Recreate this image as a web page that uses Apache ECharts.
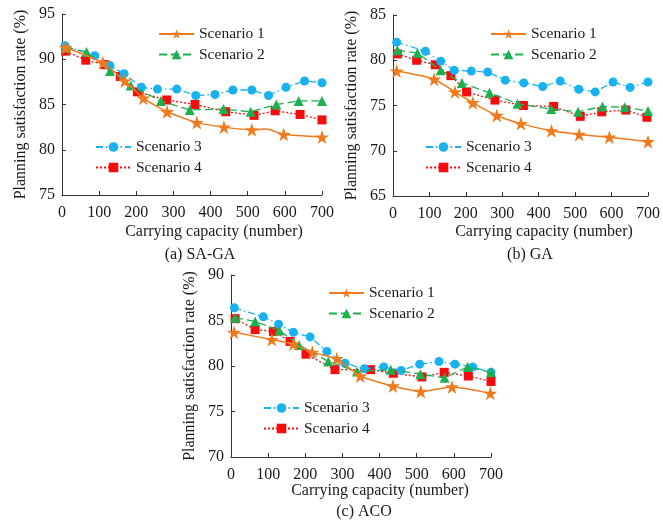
<!DOCTYPE html>
<html><head><meta charset="utf-8">
<script src="https://cdn.jsdelivr.net/npm/echarts@6/dist/echarts.min.js"></script>
<style>html,body{margin:0;padding:0;background:#fff}#c{width:663px;height:524px}</style>
</head><body><div id="c"></div>
<script>
// ---- data ----
const scenarioNames = ['Scenario 1', 'Scenario 2', 'Scenario 3', 'Scenario 4'];
const xTicks = [0, 100, 200, 300, 400, 500, 600, 700];
const panelCaptions = ['(a) SA-GA', '(b) GA', '(c) ACO'];
const yRanges = [[75, 95], [65, 85], [70, 90]];

// Panel (a) SA-GA
const aS1x = [10, 110, 169, 219, 283, 363, 436, 511, 551, 597, 700];
const aS1y = [91.3, 89.6, 87.6, 85.7, 84.2, 83.0, 82.5, 82.2, 82.3, 81.7, 81.4];
const aS1hidden = [551];
const aS2x = [10, 66, 129, 185, 266, 344, 435, 508, 577, 637, 700];
const aS2y = [91.3, 90.8, 88.7, 87.1, 85.4, 84.4, 84.5, 84.2, 85.0, 85.4, 85.4];
const aS3x = [8, 88, 129, 167, 214, 257, 309, 360, 412, 460, 511, 556, 603, 653, 700];
const aS3y = [91.5, 90.4, 89.3, 88.4, 86.9, 86.7, 86.7, 86.0, 86.1, 86.6, 86.6, 86.0, 86.9, 87.6, 87.4];
const aS4x = [10, 64, 115, 157, 203, 282, 358, 441, 517, 574, 641, 700];
const aS4y = [90.9, 89.9, 89.4, 88.1, 86.4, 85.5, 85.0, 84.2, 83.8, 84.3, 83.9, 83.3];

// Panel (b) GA
const bS1x = [10, 113, 170, 219, 285, 351, 435, 511, 594, 700];
const bS1y = [78.8, 77.9, 76.5, 75.3, 73.9, 73.0, 72.2, 71.8, 71.5, 71.0];
const bS2x = [12, 67, 131, 189, 265, 342, 434, 508, 575, 636, 700];
const bS2y = [81.1, 80.8, 78.9, 77.5, 76.4, 75.2, 74.6, 74.3, 74.9, 74.8, 74.4];
const bS3x = [10, 89, 131, 168, 215, 260, 308, 359, 411, 459, 510, 555, 604, 651, 700];
const bS3y = [82.0, 81.0, 79.9, 78.9, 78.8, 78.7, 77.8, 77.5, 77.1, 77.7, 76.8, 76.5, 77.6, 77.0, 77.6];
const bS4x = [12, 65, 116, 159, 202, 280, 358, 441, 514, 573, 639, 697];
const bS4y = [80.7, 80.0, 79.5, 78.3, 76.5, 75.6, 75.0, 74.9, 73.8, 74.3, 74.5, 73.7];

// Panel (c) ACO
const cS1x = [8, 110, 168, 219, 285, 348, 436, 511, 595, 698];
const cS1y = [83.7, 82.9, 82.4, 81.5, 80.8, 78.9, 77.8, 77.2, 77.7, 77.0];
const cS2x = [11, 65, 130, 183, 262, 339, 430, 510, 575, 637, 700];
const cS2y = [85.3, 84.9, 83.9, 82.3, 80.5, 79.4, 79.6, 79.1, 78.7, 79.9, 79.3];
const cS3x = [9, 87, 128, 168, 213, 258, 307, 359, 411, 458, 508, 560, 603, 651, 700];
const cS3y = [86.4, 85.4, 84.6, 83.7, 83.2, 81.6, 80.3, 79.7, 79.9, 79.5, 80.2, 80.5, 80.2, 79.9, 79.3];
const cS4x = [11, 65, 114, 159, 202, 280, 376, 437, 514, 574, 639, 700];
const cS4y = [85.2, 84.0, 83.8, 82.7, 81.3, 79.6, 79.6, 79.2, 78.8, 79.3, 78.9, 78.3];

// ---- styles ----
const FONT = 'Liberation Serif';
const TXT = '#1a1a1a';
const FS = 16;
const styles = [
  { color: '#F07A1E', symbol: 'path://M50,0 L61.8,35.4 L99,35.4 L69,57.3 L80.3,93 L50,71 L19.7,93 L31,57.3 L1,35.4 L38.2,35.4 Z', size: 14, type: 'solid', width: 1.5, smooth: 0.2 },
  { color: '#1DB050', symbol: 'triangle', size: 10, type: [8, 4], width: 1.3, smooth: false },
  { color: '#18B2EE', symbol: 'circle', size: 9, type: [7, 3, 1.5, 3], width: 1.3, smooth: false },
  { color: '#F50D0D', symbol: 'rect', size: 9, type: [2, 2], width: 1.3, smooth: false }
];

const panels = [
  { grid: { left: 62, top: 14, width: 260, height: 181 }, xs: [aS1x, aS2x, aS3x, aS4x], ys: [aS1y, aS2y, aS3y, aS4y], hidden: [aS1hidden, [], [], []],
    leg1: [158, 26], leg2: [95, 139], xTitle: [214, 232], cap: [200, 255] },
  { grid: { left: 393, top: 15, width: 260, height: 181 }, xs: [bS1x, bS2x, bS3x, bS4x], ys: [bS1y, bS2y, bS3y, bS4y], hidden: [[], [], [], []],
    leg1: [490, 26], leg2: [425, 139], xTitle: [544, 232], cap: [530, 255] },
  { grid: { left: 231, top: 275, width: 260, height: 182 }, xs: [cS1x, cS2x, cS3x, cS4x], ys: [cS1y, cS2y, cS3y, cS4y], hidden: [[], [], [], []],
    leg1: [328, 285], leg2: [263, 400], xTitle: [380, 491], cap: [364, 512] }
];

const grids = [], xAxes = [], yAxes = [], series = [], legends = [], graphics = [];
const axisLine = { show: true, lineStyle: { color: '#333', width: 1 } };
panels.forEach((p, i) => {
  grids.push(p.grid);
  xAxes.push({
    gridIndex: i, type: 'value', min: xTicks[0], max: xTicks[xTicks.length - 1], interval: 100,
    axisLine, axisTick: { show: true, inside: true, length: 4, lineStyle: { color: '#333' } },
    axisLabel: { fontFamily: FONT, fontSize: FS, color: TXT, margin: 10 },
    splitLine: { show: false }
  });
  yAxes.push({
    gridIndex: i, type: 'value', min: yRanges[i][0], max: yRanges[i][1], interval: 5,
    axisLine, axisTick: { show: true, inside: true, length: 4, lineStyle: { color: '#333' } },
    axisLabel: { fontFamily: FONT, fontSize: FS, color: TXT, margin: 7 },
    splitLine: { show: false },
    name: 'Planning satisfaction rate (%)', nameLocation: 'middle', nameGap: 33,
    nameTextStyle: { fontFamily: FONT, fontSize: FS, color: TXT }
  });
  for (let s = 0; s < 4; s++) {
    const st = styles[s];
    const hid = p.hidden[s];
    const data = p.xs[s].map((x, k) => hid.includes(x)
      ? { value: [x, p.ys[s][k]], symbol: 'none' }
      : [x, p.ys[s][k]]);
    series.push({
      name: scenarioNames[s], type: 'line', xAxisIndex: i, yAxisIndex: i,
      data, symbol: st.symbol, symbolSize: st.size, smooth: st.smooth,
      lineStyle: { color: st.color, type: st.type, width: st.width },
      itemStyle: { color: st.color },
      z: 10 - s, animation: false, clip: false
    });
  }
  const legendBase = {
    orient: 'vertical', itemWidth: 35, itemHeight: 12, itemGap: 4.5, padding: 0,
    textStyle: { fontFamily: FONT, fontSize: 15.5, color: TXT, padding: [0, 0, 0, 0] },
    selectedMode: false
  };
  legends.push(Object.assign({}, legendBase, { left: p.leg1[0], top: p.leg1[1], data: scenarioNames.slice(0, 2) }));
  legends.push(Object.assign({}, legendBase, { left: p.leg2[0], top: p.leg2[1], data: scenarioNames.slice(2, 4) }));
  graphics.push({ type: 'text', x: p.xTitle[0], y: p.xTitle[1],
    style: { text: 'Carrying capacity (number)', font: FS + 'px "' + FONT + '"', fill: TXT, textAlign: 'center', textVerticalAlign: 'middle' } });
  graphics.push({ type: 'text', x: p.cap[0], y: p.cap[1],
    style: { text: panelCaptions[i], font: FS + 'px "' + FONT + '"', fill: TXT, textAlign: 'center', textVerticalAlign: 'middle' } });
});

const chart = echarts.init(document.getElementById('c'), null, { renderer: 'canvas' });
chart.setOption({
  backgroundColor: '#fff', animation: false,
  grid: grids, xAxis: xAxes, yAxis: yAxes, series, legend: legends, graphic: graphics
});
</script></body></html>
